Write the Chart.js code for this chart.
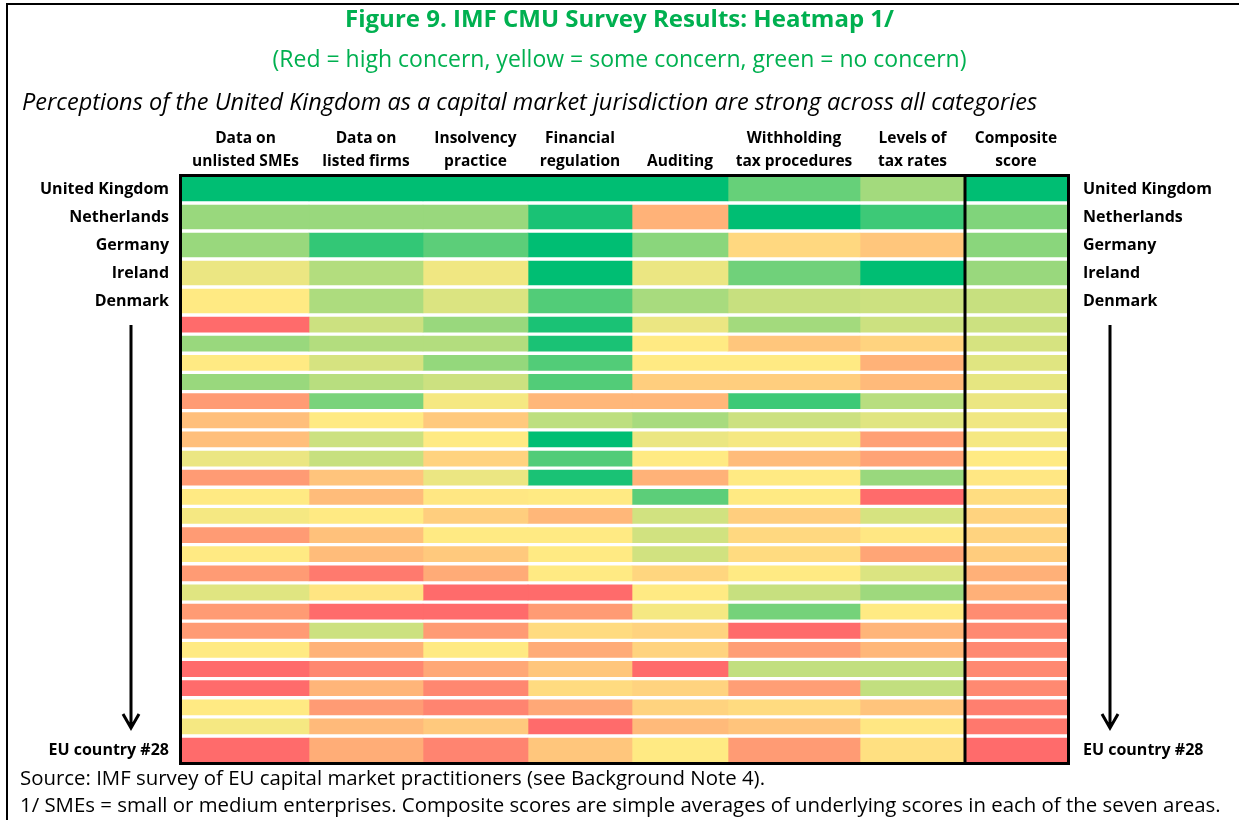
<!DOCTYPE html>
<html lang="en">
<head>
<meta charset="UTF-8">
<title>IMF CMU Survey Results: Heatmap</title>
<script src="https://cdn.jsdelivr.net/npm/chart.js"></script>
<style>
  body { margin: 0; background: #fff; font-family: 'Open Sans', sans-serif; }
  #wrap { position: relative; width: 1239px; height: 820px; overflow: hidden; }
  #frame { position: absolute; left: 6px; top: 3px; right: -5px; bottom: -5px;
           border-top: 2px solid #000; border-left: 2px solid #000; pointer-events: none; }
  #lead { position: absolute; left: 22px; top: 86px; font-size: 23.5px; line-height: 30px;
          font-style: italic; color: #000; white-space: nowrap; }
  #notes { position: absolute; left: 20px; top: 764px; font-size: 20.4px; line-height: 27px;
           color: #000; white-space: nowrap; }
</style>
</head>
<body>
<div id="wrap">
  <canvas id="heatmap" width="1239" height="820"></canvas>
  <div id="lead">Perceptions of the United Kingdom as a capital market jurisdiction are strong across all categories</div>
  <div id="notes">
    Source: IMF survey of EU capital market practitioners (see Background Note 4).<br>
    1/ SMEs = small or medium enterprises. Composite scores are simple averages of underlying scores in each of the seven areas.
  </div>
  <div id="frame"></div>
</div>

<script>
// rows, best (top) to worst (bottom); only some are named in the figure
const countries = ['United Kingdom', 'Netherlands', 'Germany', 'Ireland', 'Denmark',
  'EU country #6', 'EU country #7', 'EU country #8', 'EU country #9', 'EU country #10',
  'EU country #11', 'EU country #12', 'EU country #13', 'EU country #14', 'EU country #15',
  'EU country #16', 'EU country #17', 'EU country #18', 'EU country #19', 'EU country #20',
  'EU country #21', 'EU country #22', 'EU country #23', 'EU country #24', 'EU country #25',
  'EU country #26', 'EU country #27', 'EU country #28'];
const shownRows = [0, 1, 2, 3, 4, 27];

const areas = [['Data on', 'unlisted SMEs'], ['Data on', 'listed firms'], ['Insolvency', 'practice'],
  ['Financial', 'regulation'], 'Auditing', ['Withholding', 'tax procedures'], ['Levels of', 'tax rates'],
  ['Composite', 'score']];

// concern score per row, 0 = no concern (green), 50 = some (yellow), 100 = high (red)
const smeData         = [0, 30, 30, 46, 50, 100, 30, 50, 30, 81, 67, 67, 46, 81, 50, 48, 81, 50, 81, 44, 81, 81, 50, 100, 100, 50, 48, 100];
const listedData      = [0, 30, 10, 35, 34, 40, 35, 42, 36, 24, 50, 40, 39, 65, 68, 50, 66, 68, 94, 52, 100, 40, 72, 89, 71, 81, 69, 74];
const insolvencyData  = [0, 30, 18, 47, 43, 30, 35, 29, 40, 48, 63, 50, 59, 46, 51, 61, 50, 63, 75, 100, 100, 81, 50, 76, 89, 90, 63, 90];
const regulationData  = [0, 5, 0, 0, 16, 5, 5, 16, 16, 70, 37, 0, 16, 5, 50, 70, 50, 50, 50, 100, 81, 56, 75, 64, 56, 76, 100, 64];
const auditingData    = [0, 72, 27, 46, 33, 46, 50, 50, 61, 70, 33, 46, 50, 72, 18, 41, 41, 41, 58, 50, 48, 59, 59, 100, 59, 59, 69, 50];
const withholdingData = [20, 0, 57, 22, 39, 32, 64, 50, 61, 12, 40, 48, 68, 50, 50, 61, 57, 56, 50, 39, 23, 100, 80, 38, 80, 56, 65, 81];
const taxRateData     = [32, 12, 64, 0, 40, 40, 59, 72, 69, 36, 44, 79, 78, 30, 100, 42, 51, 77, 43, 31, 50, 71, 70, 38, 38, 65, 51, 54];
const compositeData   = [0, 25, 27, 30, 39, 40, 42, 44, 45, 46, 47, 48, 50, 51, 55, 59, 59, 62, 73, 73, 87, 88, 88, 88, 88, 92, 95, 100];

const series = [smeData, listedData, insolvencyData, regulationData, auditingData, withholdingData, taxRateData, compositeData];

// layout (axis units ~ pixels): column widths, row pitch, white gap between rows
const colWidths = [127, 114, 105, 104, 96, 132, 105, 102];
const rowGap = 4;
const rowPitch = countries.map((_, i) => i < 5 ? 28 : (i === countries.length - 1 ? 24 : 19.136));

const colStart = [], rowTop = [];
colWidths.reduce((acc, w, i) => { colStart[i] = acc; return acc + w; }, 0);
rowPitch.reduce((acc, h, i) => { rowTop[i] = acc; return acc + h; }, 0);
const totalW = colWidths.reduce((a, b) => a + b, 0);
const totalH = rowPitch.reduce((a, b) => a + b, 0);
const barH = rowPitch.map((h, i) => i === countries.length - 1 ? h : h - rowGap);
const rowMid = rowTop.map((t, i) => t + barH[i] / 2);

const GREEN = [0, 190, 115], YELLOW = [255, 234, 131], RED = [255, 107, 107];
function concernColor(v) {
  const [a, b, t] = v <= 50 ? [GREEN, YELLOW, v / 50] : [YELLOW, RED, (v - 50) / 50];
  const c = a.map((x, k) => Math.round(x + (b[k] - x) * t));
  return `rgb(${c[0]},${c[1]},${c[2]})`;
}

const FONT = "'Open Sans', sans-serif";

// black frame round the grid, bar before the composite column, and the two arrows
const decor = {
  id: 'decor',
  afterDatasetsDraw(chart) {
    const { ctx, chartArea: a, scales: { x, y } } = chart;
    ctx.save();
    ctx.strokeStyle = '#000';
    ctx.lineWidth = 3;
    ctx.strokeRect(a.left - 1.5, a.top - 1.5, a.width + 3, a.height + 3);
    const sx = x.getPixelForValue(colStart[7]);
    ctx.beginPath();
    ctx.moveTo(sx, a.top);
    ctx.lineTo(sx, a.bottom);
    ctx.stroke();

    const y0 = y.getPixelForValue(rowTop[5]) + 8;
    const y1 = y.getPixelForValue(rowTop[27]) - 10;
    [a.left - 51, a.right + 43].forEach(ax => {
      ctx.beginPath();
      ctx.moveTo(ax, y0);
      ctx.lineTo(ax, y1);
      ctx.moveTo(ax - 8, y1 - 14);
      ctx.lineTo(ax, y1);
      ctx.lineTo(ax + 8, y1 - 14);
      ctx.stroke();
    });
    ctx.restore();
  }
};

const rowTicks = scale => { scale.ticks = shownRows.map(r => ({ value: rowMid[r] })); };

new Chart(document.getElementById('heatmap'), {
  type: 'bar',
  data: {
    datasets: series.map((vals, c) => ({
      label: [].concat(areas[c]).join(' '),
      data: vals.map((v, r) => ({ x: colStart[c] + colWidths[c] / 2, y: [rowTop[r], rowTop[r] + barH[r]] })),
      backgroundColor: vals.map(concernColor),
      barThickness: colWidths[c],
      grouped: false,
      borderWidth: 0
    }))
  },
  options: {
    responsive: false,
    animation: false,
    layout: { padding: { top: 0, left: 0, right: 0, bottom: 58 } },
    plugins: {
      legend: { display: false },
      tooltip: { enabled: false },
      title: {
        display: true,
        text: 'Figure 9. IMF CMU Survey Results: Heatmap 1/',
        color: '#00B050',
        font: { family: FONT, size: 24, weight: 'bold' },
        padding: { top: 6, bottom: 11.4 }
      },
      subtitle: {
        display: true,
        text: '(Red = high concern, yellow = some concern, green = no concern)',
        color: '#00B050',
        font: { family: FONT, size: 23 },
        padding: { top: 0, bottom: 0 }
      }
    },
    scales: {
      x: {
        type: 'linear',
        position: 'top',
        min: 0,
        max: totalW,
        offset: false,
        grid: { display: false, drawTicks: false },
        border: { display: false },
        afterBuildTicks: s => { s.ticks = colStart.map((c, i) => ({ value: c + colWidths[i] / 2 })); },
        afterFit: s => { s.height = 177 - 6 - 11.4 - 28.8 - 27.6; },
        ticks: {
          autoSkip: false, maxRotation: 0, minRotation: 0, padding: 4,
          color: '#000',
          font: { family: FONT, size: 15.5, weight: 'bold', lineHeight: 1.48 },
          callback: (v, i) => areas[i]
        }
      },
      y: {
        type: 'linear',
        reverse: true,
        min: 0,
        max: totalH,
        grid: { display: false, drawTicks: false },
        border: { display: false },
        afterBuildTicks: rowTicks,
        afterFit: s => { s.width = 182; },
        ticks: {
          autoSkip: false, padding: 13, color: '#000',
          font: { family: FONT, size: 16, weight: 'bold' },
          callback: (v, i) => countries[shownRows[i]]
        }
      },
      yRight: {
        type: 'linear',
        position: 'right',
        reverse: true,
        min: 0,
        max: totalH,
        grid: { display: false, drawTicks: false },
        border: { display: false },
        afterBuildTicks: rowTicks,
        afterFit: s => { s.width = 172; },
        ticks: {
          autoSkip: false, padding: 16, color: '#000',
          font: { family: FONT, size: 16, weight: 'bold' },
          callback: (v, i) => countries[shownRows[i]]
        }
      }
    }
  },
  plugins: [decor]
});
</script>
</body>
</html>
